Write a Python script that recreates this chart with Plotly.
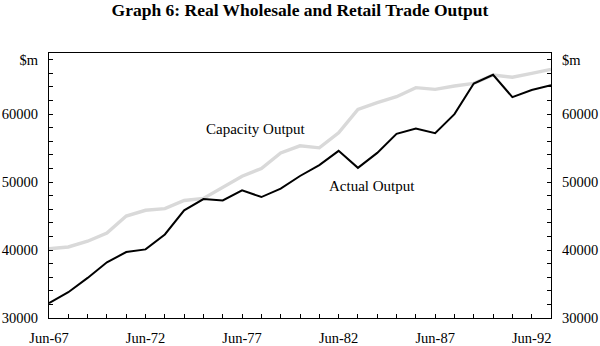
import plotly.graph_objects as go

# Annual observations, June of each year
years = list(range(1967, 1994))
actual_output = [32200, 33800, 35900, 38200, 39700, 40100, 42300, 45850, 47500,
                 47300, 48800, 47800, 49050, 50900, 52500, 54600, 52100, 54300,
                 57100, 57900, 57200, 60000, 64500, 65800, 62500, 63550, 64250]
capacity_output = [40200, 40450, 41300, 42500, 45000, 45850, 46100, 47300, 47600,
                   49200, 50870, 52000, 54300, 55340, 55040, 57260, 60700, 61700,
                   62570, 63900, 63650, 64140, 64540, 65770, 65430, 66000, 66600]

x_label_years = [1967, 1972, 1977, 1982, 1987, 1992]
x_labels = ["Jun-67", "Jun-72", "Jun-77", "Jun-82", "Jun-87", "Jun-92"]
y_label_values = [30000, 40000, 50000, 60000, 68000]
y_labels = ["30000", "40000", "50000", "60000", "$m"]

# every year gets a tick, only some carry a label
x_tickvals = years
x_ticktext = [x_labels[x_label_years.index(y)] if y in x_label_years else "" for y in years]
y_tickvals = list(range(30000, 69000, 2000))
y_ticktext = [y_labels[y_label_values.index(v)] if v in y_label_values else "" for v in y_tickvals]

FONT = "Liberation Serif, Times New Roman, serif"

fig = go.Figure()
fig.add_trace(go.Scatter(x=years, y=capacity_output, mode="lines",
                         line=dict(color="#d9d9d9", width=3.4),
                         hoverinfo="skip", showlegend=False))
fig.add_trace(go.Scatter(x=years, y=actual_output, mode="lines",
                         line=dict(color="#000000", width=2),
                         hoverinfo="skip", showlegend=False))
# invisible trace so the right-hand axis is drawn
fig.add_trace(go.Scatter(x=years, y=actual_output, yaxis="y2", mode="lines",
                         line=dict(width=0), opacity=0,
                         hoverinfo="skip", showlegend=False))

yaxis_common = dict(
    range=[30000, 69000], tickvals=y_tickvals, ticktext=y_ticktext,
    ticks="inside", ticklen=4, tickwidth=1, tickcolor="#000",
    ticklabelstandoff=7, automargin=False,
    showline=True, linecolor="#000", linewidth=1.2,
    showgrid=False, zeroline=False,
    tickfont=dict(family=FONT, size=14.5, color="#000"),
)

fig.update_layout(
    width=600, height=346,
    margin=dict(l=49, r=49, t=53, b=28),
    paper_bgcolor="white", plot_bgcolor="white",
    title=dict(text="<b>Graph 6: Real Wholesale and Retail Trade Output</b>",
               x=0.5, xanchor="center", y=1 - 10 / 346, yanchor="middle",
               font=dict(family=FONT, size=17.5, color="#000")),
    xaxis=dict(range=[1967, 1993], tickvals=x_tickvals, ticktext=x_ticktext,
               ticks="inside", ticklen=4, tickwidth=1, tickcolor="#000",
               ticklabelstandoff=6, automargin=False,
               showline=True, linecolor="#000", linewidth=1.2, mirror=True,
               showgrid=False, zeroline=False,
               tickfont=dict(family=FONT, size=14.5, color="#000")),
    yaxis=dict(side="left", **yaxis_common),
    yaxis2=dict(side="right", overlaying="y", **yaxis_common),
    annotations=[
        dict(x=1977.72, y=57800, text="Capacity Output", showarrow=False,
             font=dict(family=FONT, size=15, color="#000")),
        dict(x=1983.73, y=49400, text="Actual Output", showarrow=False,
             font=dict(family=FONT, size=15, color="#000")),
    ],
)

fig.write_html("out.html")
